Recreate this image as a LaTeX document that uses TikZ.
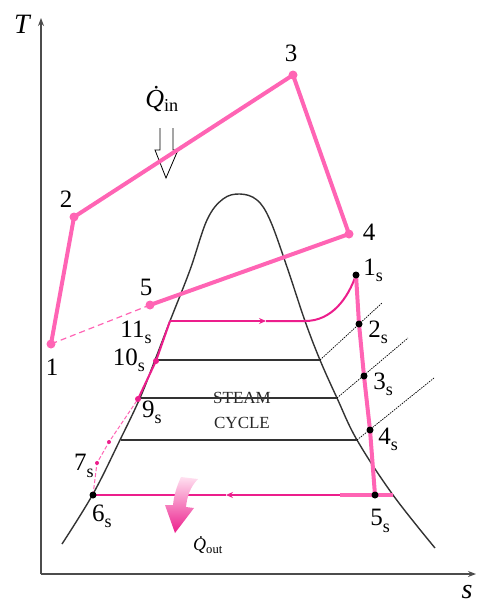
\documentclass[tikz,border=0pt]{standalone}
\usepackage{fontspec}
\setmainfont{Liberation Serif}
\usetikzlibrary{arrows.meta}
\definecolor{hotpink}{RGB}{255,100,180}
\definecolor{deeppink}{RGB}{236,30,140}
\newcommand{\sst}[1]{#1\raisebox{-0.25em}{\fontsize{18}{18}\selectfont s}}
\newcommand{\qdot}{{\itshape\.{Q}}}

\tikzset{
	cycleline/.style = {hotpink, line width = 4pt, line join = round},
	steamline/.style = {deeppink, line width = 2pt},
	domeline/.style = {black!80, line width = 1.4pt},
	isobar/.style = {black, line width = 0.7pt, dash pattern = on 1.5pt off 1pt},
	lbl/.style = {font = \fontsize{25}{25}\selectfont, inner sep = 0pt},
	midtip/.style = {-{Stealth[length = 7pt, width = 6pt]}}
}

\begin{document}
\begin{tikzpicture}[x = 1pt, y = -1pt]
	\useasboundingbox (0,0) rectangle (478,605);
	\coordinate (o) at (41,574);
	\coordinate (ttop) at (41,18);
	\coordinate (send) at (476,574);
	\draw[black!70, line width = 1.5pt, -{Stealth[length = 8pt, width = 6pt]}] (o) -- (ttop);
	\draw[black!70, line width = 1.5pt, -{Stealth[length = 8pt, width = 6pt]}] (o) -- (send);
	\node[font = \fontsize{28}{28}\selectfont\itshape] (tlab) at (22,24) {T};
	\node[font = \fontsize{28}{28}\selectfont\itshape] (slab) at (467,592) {s};
	\draw[domeline] plot[smooth, tension = 0.6] coordinates {
		(62,544) (93,494) (120,440) (140,398) (155,360) (170,321) (190,270)
		(207,220) (223,199) (240,194) (257,200) (270,220) (287,267)
		(305,321) (320,360) (337,398) (357,440) (393,495) (435,548)};
	\coordinate (f10) at (155,360);
	\coordinate (g10) at (320,360);
	\coordinate (f9) at (140,398);
	\coordinate (g9) at (337,398);
	\coordinate (f8) at (121,440);
	\coordinate (g8) at (357,440);
	\coordinate (h2) at (382,303);
	\coordinate (h3) at (408,338);
	\coordinate (h4) at (434,378);
	\node[font = \fontsize{17}{25}\selectfont, text = black!85, align = center] (cyc) at (242,410) {STEAM\\CYCLE};
	\draw[domeline, line width = 1.1pt] (f10) -- (g10);
	\draw[domeline, line width = 1.1pt] (f9) -- (g9);
	\draw[domeline, line width = 1.1pt] (f8) -- (g8);
	\draw[isobar] (g10) -- (h2);
	\draw[isobar] (g9) -- (h3);
	\draw[isobar] (g8) -- (h4);
	\draw[line width = 0.8pt] (160,128) -- (160,150) -- (155,150) -- (166,178) -- (178,150) -- (173,150) -- (173,128);
	\node[font = \fontsize{26}{26}\selectfont, inner sep = 0pt] (qin) at (162,99) {\qdot\textsubscript{in}};
	\coordinate (b1) at (51,344);
	\coordinate (b2) at (74,217);
	\coordinate (b3) at (293,75);
	\coordinate (b4) at (349,234);
	\coordinate (b5) at (150,305);
	\draw[cycleline] (b1) -- (b2) -- (b3) -- (b4) -- (b5);
	\draw[hotpink, line width = 1.2pt, dash pattern = on 6pt off 4pt] (b5) -- (b1);
	\foreach \p in {b1,b2,b3,b4,b5}
		\fill[hotpink] (\p) circle (4.5pt);
	\coordinate (s1) at (356,275);
	\coordinate (s2) at (359,324);
	\coordinate (s3) at (364,376);
	\coordinate (s4) at (370,430);
	\coordinate (s5) at (375,495);
	\coordinate (s6) at (93,495);
	\coordinate (s7) at (97,463);
	\coordinate (s8) at (109,442);
	\coordinate (s9) at (138,399);
	\coordinate (s10) at (156,361);
	\coordinate (s11) at (170,321);
	\coordinate (m11) at (266,321);
	\coordinate (g11) at (305,321);
	\coordinate (e5) at (393,495);
	\coordinate (m6) at (226,495);
	\draw[hotpink, line width = 1pt, dash pattern = on 4pt off 2pt] (s6) -- (s7) -- (s8) -- (s9);
	\draw[steamline] (s9) -- (s10) -- (s11);
	\draw[steamline, midtip] (s11) -- (m11);
	\draw[steamline] (m11) -- (g11) .. controls (332,321) and (348,298) .. (s1);
	\draw[cycleline] (s1) -- (s2) -- (s3) -- (s4) -- (s5);
	\draw[steamline, line width = 2.5pt, midtip] (e5) -- (m6);
	\draw[steamline, line width = 2.5pt] (m6) -- (s6);
	\draw[hotpink, line width = 4pt] (340,495) -- (e5);
	\foreach \p in {s7,s8}
		\fill[deeppink] (\p) circle (2pt);
	\foreach \p in {s9,s10}
		\fill[deeppink] (\p) circle (3pt);
	\foreach \p in {s1,s2,s3,s4,s5,s6}
		\fill (\p) circle (3.5pt);
	\shade[top color = hotpink!20, bottom color = deeppink]
		(181,477) .. controls (176,488) and (174,496) .. (173,505) -- (165,505)
		-- (175,533) -- (194,508) -- (186,507) .. controls (187,497) and (190,487) .. (198,479) -- cycle;
	\node[font = \fontsize{18}{18}\selectfont, inner sep = 0pt] (qout) at (208,545) {\qdot\textsubscript{out}};
	\node[lbl] (t1) at (52,367) {1};
	\node[lbl] (t2) at (66,199) {2};
	\node[lbl] (t3) at (291,53) {3};
	\node[lbl] (t4) at (369,232) {4};
	\node[lbl] (t5) at (146,287) {5};
	\node[lbl] (t1s) at (373,270) {\sst{1}};
	\node[lbl] (t2s) at (378,332) {\sst{2}};
	\node[lbl] (t3s) at (383,384) {\sst{3}};
	\node[lbl] (t4s) at (388,439) {\sst{4}};
	\node[lbl] (t5s) at (380,521) {\sst{5}};
	\node[lbl] (t6s) at (102,516) {\sst{6}};
	\node[lbl] (t7s) at (84,466) {\sst{7}};
	\node[lbl] (t9s) at (152,412) {\sst{9}};
	\node[lbl] (t10s) at (129,360) {\sst{10}};
	\node[lbl] (t11s) at (136,332) {\sst{11}};
\end{tikzpicture}
\end{document}
